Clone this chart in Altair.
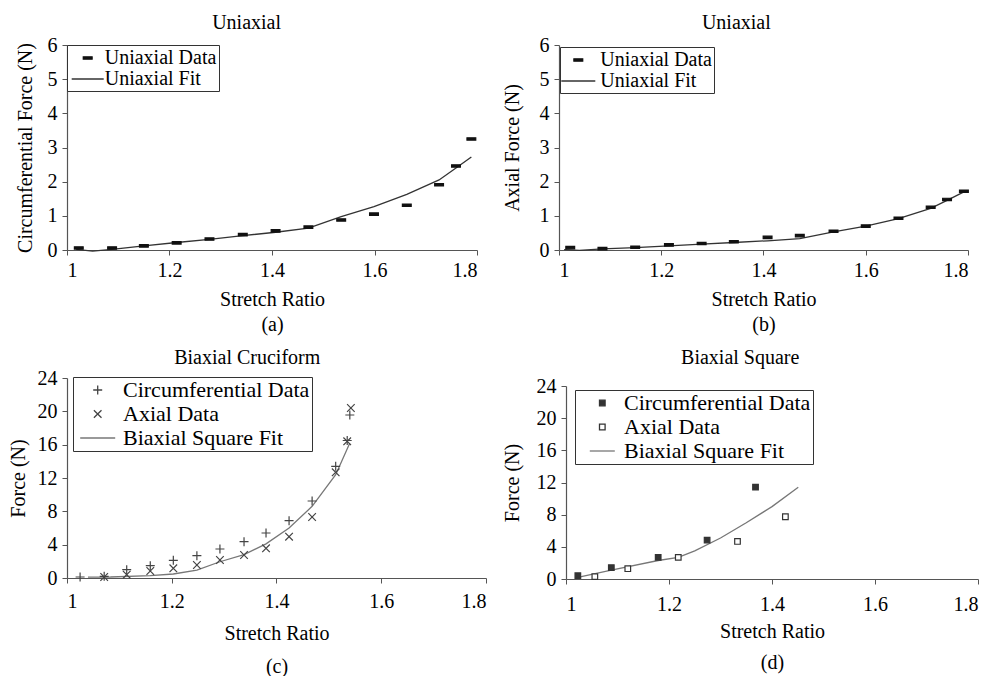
import altair as alt
import pandas as pd

FONT = "Liberation Serif"

# ---------------- (a) Uniaxial - circumferential ----------------
a_data_s = [1.023, 1.088, 1.150, 1.214, 1.278, 1.343, 1.407, 1.471, 1.535, 1.599, 1.663, 1.726, 1.759, 1.789]
a_data_v = [0.06, 0.06, 0.12, 0.21, 0.32, 0.45, 0.56, 0.67, 0.88, 1.05, 1.31, 1.91, 2.46, 3.25]
a_fit_s = [1.018, 1.050, 1.088, 1.150, 1.214, 1.278, 1.343, 1.407, 1.471, 1.535, 1.599, 1.663, 1.726, 1.759, 1.789]
a_fit_v = [0.02, -0.03, 0.02, 0.12, 0.22, 0.31, 0.42, 0.52, 0.64, 0.98, 1.27, 1.63, 2.05, 2.40, 2.72]

# ---------------- (b) Uniaxial - axial ----------------
b_data_s = [1.022, 1.085, 1.149, 1.215, 1.279, 1.342, 1.408, 1.471, 1.537, 1.600, 1.664, 1.727, 1.759, 1.792]
b_data_v = [0.07, 0.04, 0.08, 0.15, 0.19, 0.24, 0.37, 0.42, 0.55, 0.70, 0.93, 1.25, 1.48, 1.72]
b_fit_s = [1.010, 1.040, 1.085, 1.149, 1.215, 1.279, 1.342, 1.408, 1.471, 1.537, 1.600, 1.664, 1.727, 1.759, 1.792]
b_fit_v = [0.01, -0.01, 0.03, 0.07, 0.12, 0.17, 0.22, 0.27, 0.33, 0.53, 0.70, 0.92, 1.22, 1.45, 1.70]

# ---------------- (c) Biaxial Cruciform ----------------
c_circ_s = [1.025, 1.071, 1.114, 1.159, 1.203, 1.248, 1.292, 1.338, 1.380, 1.424, 1.468, 1.513, 1.535, 1.540]
c_circ_v = [0.12, 0.20, 1.00, 1.48, 2.12, 2.68, 3.48, 4.36, 5.40, 6.88, 9.24, 13.4, 16.5, 19.56]
c_ax_s = [1.071, 1.114, 1.159, 1.203, 1.248, 1.292, 1.338, 1.380, 1.424, 1.468, 1.513, 1.535, 1.542]
c_ax_v = [0.12, 0.40, 0.84, 1.16, 1.56, 2.16, 2.76, 3.56, 4.96, 7.32, 12.68, 16.4, 20.4]
c_fit_s = [1.040, 1.083, 1.159, 1.203, 1.248, 1.292, 1.338, 1.380, 1.424, 1.468, 1.513, 1.540]
c_fit_v = [0.10, 0.12, 0.28, 0.48, 0.95, 1.95, 2.80, 4.10, 6.00, 8.60, 12.4, 16.2]

# ---------------- (d) Biaxial Square ----------------
d_circ_s = [1.023, 1.088, 1.179, 1.274, 1.368]
d_circ_v = [0.41, 1.41, 2.69, 4.84, 11.42]
d_ax_s = [1.056, 1.120, 1.218, 1.333, 1.426]
d_ax_v = [0.29, 1.28, 2.69, 4.67, 7.74]
d_fit_s = [1.023, 1.088, 1.179, 1.218, 1.250, 1.300, 1.350, 1.400, 1.451]
d_fit_v = [0.20, 1.10, 2.30, 2.70, 3.50, 5.10, 7.00, 9.00, 11.4]

x_ticks = [1, 1.2, 1.4, 1.6, 1.8]
SYM = 400  # symbol size (20 px box); shapes below are drawn relative to it


def panel(series, fit_s, fit_v, fit_name, shapes, fills, strokes, line_color,
          legend_pos, legend_sym_offset, legend_row_pad, legend_label_offset, legend_font,
          ytitle, ydomain, yticks, xtitle, title, title_offset, width, height,
          y_title_pad, x_label_pad, x_title_pad, x_title_lh):
    rows = []
    for name, ss, vv in series:
        for s, v in zip(ss, vv):
            rows.append({"s": s, "v": v, "series": name})
    pts = pd.DataFrame(rows)
    fit = pd.DataFrame({"s": fit_s, "v": fit_v})
    domain = [n for n, _, _ in series] + [fit_name]

    leg = alt.Legend(
        orient="none", legendX=legend_pos[0], legendY=legend_pos[1], title=None,
        strokeColor="#333", fillColor="white", padding=2,
        labelFont=FONT, labelFontSize=legend_font, labelColor="black", labelLimit=0,
        symbolSize=SYM, symbolStrokeWidth=1.3, symbolOffset=legend_sym_offset,
        labelOffset=legend_label_offset, rowPadding=legend_row_pad,
    )
    x = alt.X("s:Q", scale=alt.Scale(domain=[1, 1.8], nice=False, zero=False),
              axis=alt.Axis(values=x_ticks, format="~g", title=xtitle,
                            titleLineHeight=x_title_lh, labelPadding=x_label_pad,
                            titlePadding=x_title_pad))
    y = alt.Y("v:Q", scale=alt.Scale(domain=ydomain, nice=False),
              axis=alt.Axis(values=yticks, format="d", title=ytitle,
                            titlePadding=y_title_pad, labelPadding=5))
    points = alt.Chart(pts).mark_point(size=SYM, opacity=1, strokeWidth=1.2).encode(
        x=x, y=y,
        shape=alt.Shape("series:N", scale=alt.Scale(domain=domain, range=shapes), legend=leg),
        fill=alt.Fill("series:N", scale=alt.Scale(domain=domain, range=fills), legend=leg),
        stroke=alt.Stroke("series:N", scale=alt.Scale(domain=domain, range=strokes), legend=leg),
    )
    line = alt.Chart(fit).mark_line(color=line_color, strokeWidth=1.3).encode(x=x, y=y)
    return alt.layer(line, points).properties(
        width=width, height=height,
        title=alt.TitleParams(text=title, font=FONT, fontSize=20, fontWeight="normal",
                              color="black", offset=title_offset, anchor="middle",
                              frame="bounds"),
    )


pa = panel(
    [("Uniaxial Data", a_data_s, a_data_v)], a_fit_s, a_fit_v, "Uniaxial Fit",
    ["M-0.44,-0.12H0.44V0.12H-0.44Z", "M-1.6,0H1.6"], ["#111111", "transparent"], ["#111111", "#333333"],
    "#333333", (0, 0), 7.7, 0, 6, 20,
    "Circumferential Force (N)", [0, 6], [0, 1, 2, 3, 4, 5, 6],
    ["Stretch Ratio", "(a)"], "Uniaxial", 2, 410, 205, 12, 5, 9, 25)

pb = panel(
    [("Uniaxial Data", b_data_s, b_data_v)], b_fit_s, b_fit_v, "Uniaxial Fit",
    ["M-0.44,-0.12H0.44V0.12H-0.44Z", "M-1.7,0H1.7"], ["#111111", "transparent"], ["#111111", "#333333"],
    "#333333", (1, 2), 5.3, 0, 11, 20,
    "Axial Force (N)", [0, 6], [0, 1, 2, 3, 4, 5, 6],
    ["Stretch Ratio", "(b)"], "Uniaxial", 2, 409, 205, 17, 5, 9, 25)

pc = panel(
    [("Circumferential Data", c_circ_s, c_circ_v), ("Axial Data", c_ax_s, c_ax_v)],
    c_fit_s, c_fit_v, "Biaxial Square Fit",
    ["M-0.45,0H0.45M0,-0.45V0.45", "M-0.38,-0.38L0.38,0.38M-0.38,0.38L0.38,-0.38", "M-1.75,0H1.75"],
    ["transparent", "transparent", "transparent"], ["#444444", "#444444", "#777777"],
    "#777777", (6, -1), 11.7, 2, 14.3, 22,
    "Force (N)", [0, 24], [0, 4, 8, 12, 16, 20, 24],
    ["Stretch Ratio", "(c)"], "Biaxial Cruciform", 0, 419, 200, 9, 8, 12, 33)

pd_ = panel(
    [("Circumferential Data", d_circ_s, d_circ_v), ("Axial Data", d_ax_s, d_ax_v)],
    d_fit_s, d_fit_v, "Biaxial Square Fit",
    ["M-0.28,-0.28H0.28V0.28H-0.28Z", "M-0.28,-0.28H0.28V0.28H-0.28Z", "M-1.25,0H1.25"],
    ["#333333", "white", "transparent"], ["#333333", "#333333", "#777777"],
    "#777777", (9, 4), 14.3, 2, 10.7, 22,
    "Force (N)", [0, 24], [0, 4, 8, 12, 16, 20, 24],
    ["Stretch Ratio", "(d)"], "Biaxial Square", 8, 412, 193, 14, 10, 7, 31)

res = dict(x="independent", y="independent", shape="independent",
           fill="independent", stroke="independent")

chart = alt.concat(
    pa, pb, pc, pd_, columns=2, align="none",
    spacing=alt.RowColnumber(row=14, column=15),
).resolve_scale(**res).resolve_legend(
    shape="independent", fill="independent", stroke="independent"
).properties(
    padding={"left": 0, "top": 5, "right": 0, "bottom": 0}
).configure_view(stroke=None).configure_axis(
    grid=False, domainColor="#555555", tickColor="#555555", domainWidth=1.2,
    labelFont=FONT, labelFontSize=20, labelColor="black",
    titleFont=FONT, titleFontSize=20, titleFontWeight="normal", titleColor="black",
)

chart.save("out.html", embed_options={"renderer": "svg", "actions": False})
